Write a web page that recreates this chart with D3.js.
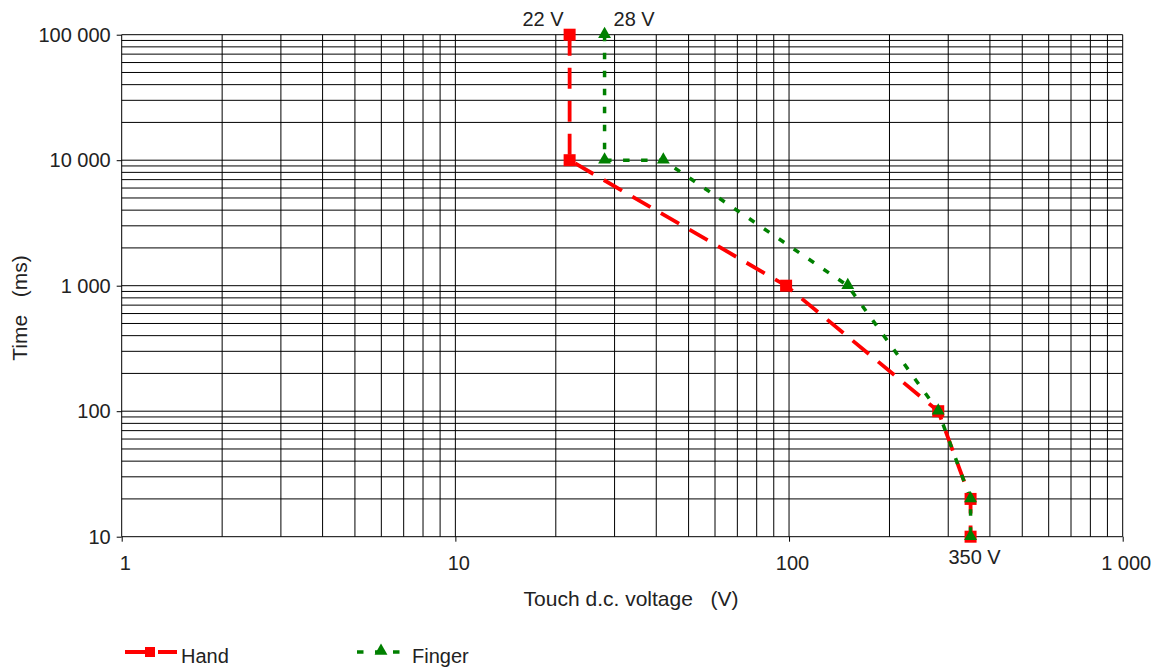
<!DOCTYPE html>
<html>
<head>
<meta charset="utf-8">
<script src="https://cdn.jsdelivr.net/npm/d3@7"></script>
<style>
  html, body { margin: 0; padding: 0; background: #fff; }
  svg text { font-family: "Liberation Sans", Arial, sans-serif; fill: #222; white-space: pre; }
</style>
</head>
<body>
<svg id="chart" width="1154" height="667"></svg>
<script>
// Touch d.c. voltage (V) vs. time (ms), log-log
const handVoltage = [22, 22, 98, 280, 350, 350];
const handTime = [100000, 10000, 1000, 100, 20, 10];
const fingerVoltage = [28, 28, 42, 150, 280, 350, 350];
const fingerTime = [100000, 10000, 10000, 1000, 100, 20, 10];

const xTicks = [1, 10, 100, 1000];
const xTickLabels = ["1", "10", "100", "1 000"];
const yTicks = [10, 100, 1000, 10000, 100000];
const yTickLabels = ["10", "100", "1 000", "10 000", "100 000"];

const pointLabels = [
  { text: "22 V", v: 22, t: 100000 },
  { text: "28 V", v: 28, t: 100000 },
  { text: "350 V", v: 350, t: 10 }
];

const svg = d3.select("#chart");
const plotLeft = 121.7, plotRight = 1122.7, plotTop = 34.7, plotBottom = 536.7;

const x = d3.scaleLog().domain([1, 1000]).range([plotLeft, plotRight]);
const y = d3.scaleLog().domain([10, 100000]).range([plotBottom, plotTop]);

// grid: every 1..9 step within each decade
const gridX = [], gridY = [];
for (let d = 1; d < 1000; d *= 10) for (let k = 1; k < 10; k++) gridX.push(d * k);
gridX.push(1000);
for (let d = 10; d < 100000; d *= 10) for (let k = 1; k < 10; k++) gridY.push(d * k);
gridY.push(100000);

const grid = svg.append("g").attr("stroke", "#000").attr("stroke-width", 1);
grid.selectAll("line.gx").data(gridX).join("line")
  .attr("x1", d => x(d)).attr("x2", d => x(d))
  .attr("y1", plotTop).attr("y2", plotBottom);
grid.selectAll("line.gy").data(gridY).join("line")
  .attr("x1", plotLeft).attr("x2", plotRight)
  .attr("y1", d => y(d)).attr("y2", d => y(d));

// axes: short outer ticks
const xAxis = d3.axisBottom(x).tickValues(xTicks)
  .tickFormat((d, i) => xTickLabels[i]).tickSize(5).tickPadding(14);
const yAxis = d3.axisLeft(y).tickValues(yTicks)
  .tickFormat((d, i) => yTickLabels[i]).tickSize(5).tickPadding(6);

const gx = svg.append("g").attr("transform", `translate(0,${plotBottom})`).call(xAxis);
const gy = svg.append("g").attr("transform", `translate(${plotLeft},0)`).call(yAxis);
[gx, gy].forEach(g => {
  g.select(".domain").remove();
  g.selectAll(".tick line").attr("stroke", "#000");
  g.selectAll(".tick text").attr("font-size", 20).style("fill", "#222")
    .attr("font-family", "Liberation Sans, Arial, sans-serif");
});
gx.selectAll(".tick text").attr("dx", 3);

// axis titles
svg.append("text").attr("x", 631).attr("y", 606).attr("text-anchor", "middle")
  .attr("font-size", 21).text("Touch d.c. voltage   (V)");
svg.append("text").attr("transform", "translate(27,308) rotate(-90)")
  .attr("text-anchor", "middle").attr("font-size", 21).text("Time   (ms)");

// series
const line = d3.line().x(d => x(d[0])).y(d => y(d[1]));
const hand = handVoltage.map((v, i) => [v, handTime[i]]);
const finger = fingerVoltage.map((v, i) => [v, fingerTime[i]]);

const red = "#ff0000", green = "#008000";
const handDash = "21 12", fingerDash = "6.5 11.5";

svg.append("path").datum(hand).attr("d", line)
  .attr("fill", "none").attr("stroke", red).attr("stroke-width", 3.8)
  .attr("stroke-dasharray", handDash);
svg.append("path").datum(finger).attr("d", line)
  .attr("fill", "none").attr("stroke", green).attr("stroke-width", 3.5)
  .attr("stroke-dasharray", fingerDash);

const sq = 12, tri = d3.symbol().type(d3.symbolTriangle).size(72);
svg.append("g").selectAll("rect").data(hand).join("rect")
  .attr("x", d => x(d[0]) - sq / 2).attr("y", d => y(d[1]) - sq / 2)
  .attr("width", sq).attr("height", sq).attr("fill", red);
svg.append("g").selectAll("path").data(finger).join("path")
  .attr("d", tri)
  .attr("transform", d => `translate(${x(d[0])},${y(d[1]) - 0.5})`)
  .attr("fill", green);

// point labels
const lbl = svg.append("g").attr("font-size", 20);
lbl.append("text").attr("x", x(pointLabels[0].v) - 6).attr("y", y(pointLabels[0].t) - 9)
  .attr("text-anchor", "end").text(pointLabels[0].text);
lbl.append("text").attr("x", x(pointLabels[1].v) + 9).attr("y", y(pointLabels[1].t) - 9)
  .attr("text-anchor", "start").text(pointLabels[1].text);
lbl.append("text").attr("x", x(pointLabels[2].v) + 4).attr("y", y(pointLabels[2].t) + 27)
  .attr("text-anchor", "middle").text(pointLabels[2].text);

// legend
const leg = svg.append("g");
leg.append("line").attr("x1", 125).attr("x2", 177).attr("y1", 652).attr("y2", 652)
  .attr("stroke", red).attr("stroke-width", 3.8).attr("stroke-dasharray", handDash);
leg.append("rect").attr("x", 145).attr("y", 647).attr("width", 10).attr("height", 10).attr("fill", red);
leg.append("text").attr("x", 181).attr("y", 663).attr("font-size", 20).text("Hand");

leg.append("line").attr("x1", 357).attr("x2", 401).attr("y1", 652).attr("y2", 652)
  .attr("stroke", green).attr("stroke-width", 3.5).attr("stroke-dasharray", fingerDash);
leg.append("path").attr("d", tri).attr("transform", "translate(381,651)").attr("fill", green);
leg.append("text").attr("x", 412).attr("y", 663).attr("font-size", 20).text("Finger");
</script>
</body>
</html>
